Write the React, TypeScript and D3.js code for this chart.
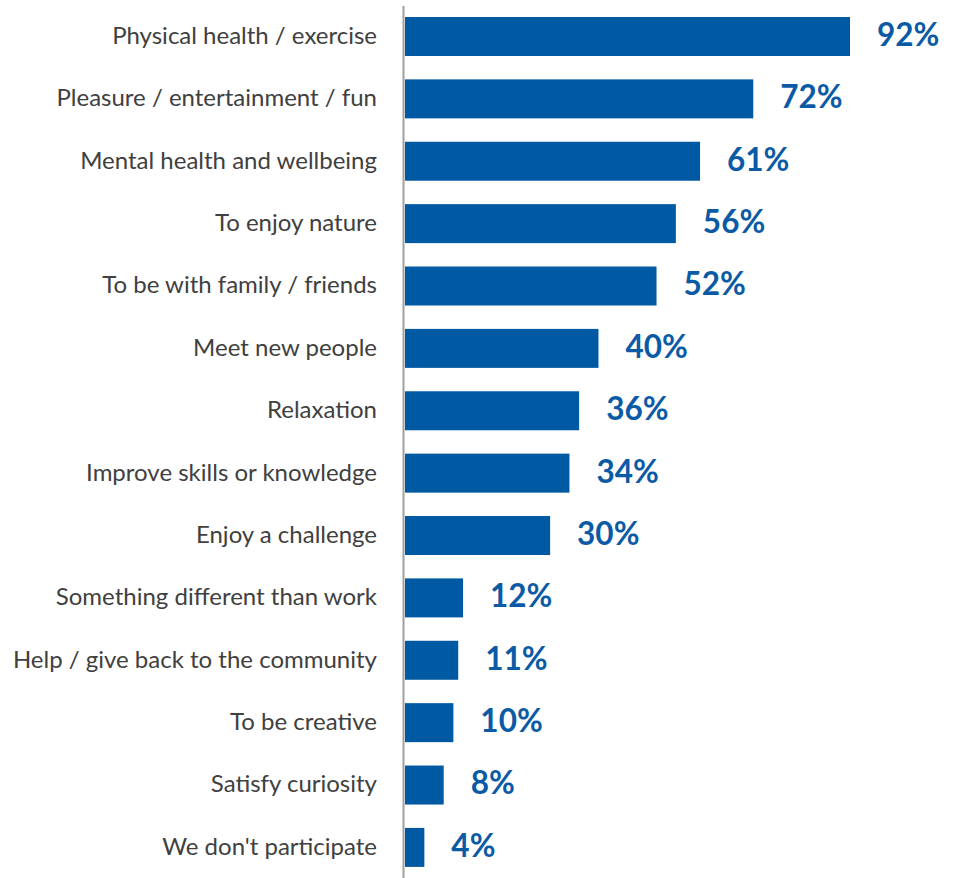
import React from "react";
import * as d3 from "d3";

const categories = [
  "Physical health / exercise",
  "Pleasure / entertainment / fun",
  "Mental health and wellbeing",
  "To enjoy nature",
  "To be with family / friends",
  "Meet new people",
  "Relaxation",
  "Improve skills or knowledge",
  "Enjoy a challenge",
  "Something different than work",
  "Help / give back to the community",
  "To be creative",
  "Satisfy curiosity",
  "We don't participate",
];
const values = [92, 72, 61, 56, 52, 40, 36, 34, 30, 12, 11, 10, 8, 4];

const W = 957;
const H = 878;
const x0 = 405;

export default function App() {
  const x = d3.scaleLinear().domain([0, 92]).range([x0, 850]);
  const y = d3
    .scaleBand<string>()
    .domain(categories)
    .range([17, 866.9])
    .paddingInner(0.375)
    .paddingOuter(0);
  const bh = y.bandwidth();
  return (
    <div style={{ position: "absolute", left: 0, top: 0 }}>
      <svg width={W} height={H} style={{ display: "block", fontFamily: "Lato, sans-serif" }}>
        {categories.map((c, i) => {
          const yy = y(c) as number;
          return (
            <g key={c}>
              <rect x={x0} y={yy} width={x(values[i]) - x0} height={bh} fill="#0059A3" />
              <text
                x={377}
                y={yy + bh / 2}
                dy="0.31em"
                textAnchor="end"
                fontSize={24}
                fill="#404040"
              >
                {c}
              </text>
              <text
                x={x(values[i]) + 27}
                y={yy + bh / 2}
                dy="0.3em"
                fontSize={31.5}
                fontWeight={700}
                fill="#0B5AA5"
              >
                {values[i]}%
              </text>
            </g>
          );
        })}
        <line x1={403.5} x2={403.5} y1={6} y2={H} stroke="#a0a0a0" strokeWidth={2} />
      </svg>
    </div>
  );
}
